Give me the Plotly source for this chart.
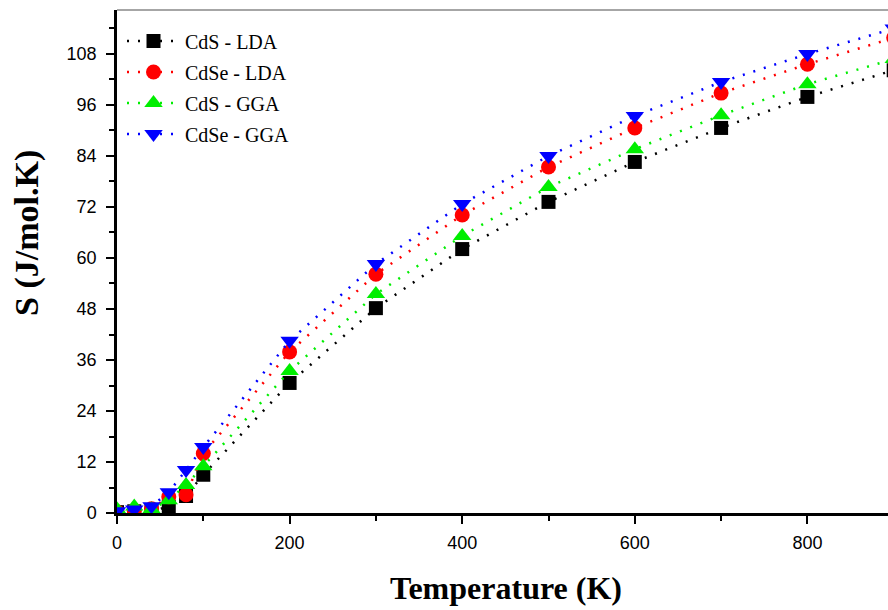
import plotly.graph_objects as go

temps = [0, 20, 40, 60, 80, 100, 200, 300, 400, 500, 600, 700, 800, 900]
cds_lda = [0.2, 0.4, 0.6, 1.4, 4.0, 9.0, 30.6, 48.2, 62.1, 73.2, 82.6, 90.6, 97.9, 104.2]
cdse_lda = [0.3, 0.6, 1.0, 3.8, 4.3, 14.0, 37.9, 56.2, 70.1, 81.4, 90.6, 98.8, 105.6, 111.8]
cds_gga = [0.9, 1.5, 0.9, 3.0, 6.6, 11.0, 33.4, 51.5, 65.2, 76.7, 85.6, 93.6, 100.9, 106.8]
cdse_gga = [0.4, 0.8, 1.6, 4.9, 10.1, 15.5, 40.5, 58.6, 72.7, 84.0, 93.4, 101.4, 108.0, 114.0]

series = [
    ("CdS - LDA", cds_lda, "black", "square", 14),
    ("CdSe - LDA", cdse_lda, "red", "circle", 15),
    ("CdS - GGA", cds_gga, "#00ee00", "triangle-up", 16),
    ("CdSe - GGA", cdse_gga, "blue", "triangle-down", 16),
]

fig = go.Figure()
for name, vals, col, sym, sz in series:
    fig.add_trace(go.Scatter(
        x=temps, y=vals, name=name, mode="lines+markers", legendgroup=name,
        line=dict(color=col, width=2.5, dash="2px,9px"),
        marker=dict(color=col, symbol=sym, size=sz, line=dict(width=0)),
        cliponaxis=True,
    ))

serif = "Liberation Serif"
sans = "Liberation Sans"

fig.update_layout(
    width=888, height=610,
    margin=dict(l=117, r=0, t=10, b=97),
    paper_bgcolor="white", plot_bgcolor="white",
    showlegend=True,
    legend=dict(x=0.0065, y=0.977, xanchor="left", yanchor="top",
                font=dict(family=serif, size=20, color="black"),
                bgcolor="rgba(0,0,0,0)", itemwidth=53, tracegroupgap=2),
    xaxis=dict(range=[0, 893.4], tickvals=[0, 200, 400, 600, 800],
               ticks="outside", ticklen=8, tickwidth=2, tickcolor="black",
               showline=True, linecolor="black", linewidth=2.5,
               showgrid=False, zeroline=False, ticklabelstandoff=4,
               tickfont=dict(family=sans, size=18, color="black"),
               minor=dict(tickvals=[100, 300, 500, 700, 900], ticks="outside",
                          ticklen=5, tickwidth=2, tickcolor="black")),
    yaxis=dict(range=[0, 118.35], tickvals=list(range(0, 109, 12)),
               ticks="outside", ticklen=8, tickwidth=2, tickcolor="black",
               showline=True, linecolor="black", linewidth=2.5,
               showgrid=False, zeroline=False, ticklabelstandoff=6,
               tickfont=dict(family=sans, size=18, color="black"),
               minor=dict(tickvals=list(range(6, 118, 12)), ticks="outside",
                          ticklen=5, tickwidth=2, tickcolor="black")),
    shapes=[dict(type="line", xref="paper", yref="paper", x0=0, x1=1, y0=1, y1=1,
                 line=dict(color="#888888", width=1.5))],
    annotations=[
        dict(text="<b>Temperature (K)</b>", xref="paper", yref="paper",
             x=(506 - 117) / 771, y=-(588 - 513) / 503, xanchor="center", yanchor="middle",
             showarrow=False, font=dict(family=serif, size=32, color="black")),
        dict(text="<b>S (J/mol.K)</b>", xref="paper", yref="paper",
             x=-(117 - 27) / 771, y=(513 - 233) / 503, xanchor="center", yanchor="middle",
             textangle=-90, showarrow=False, font=dict(family=serif, size=34, color="black")),
    ],
)

fig.write_html("out.html")
